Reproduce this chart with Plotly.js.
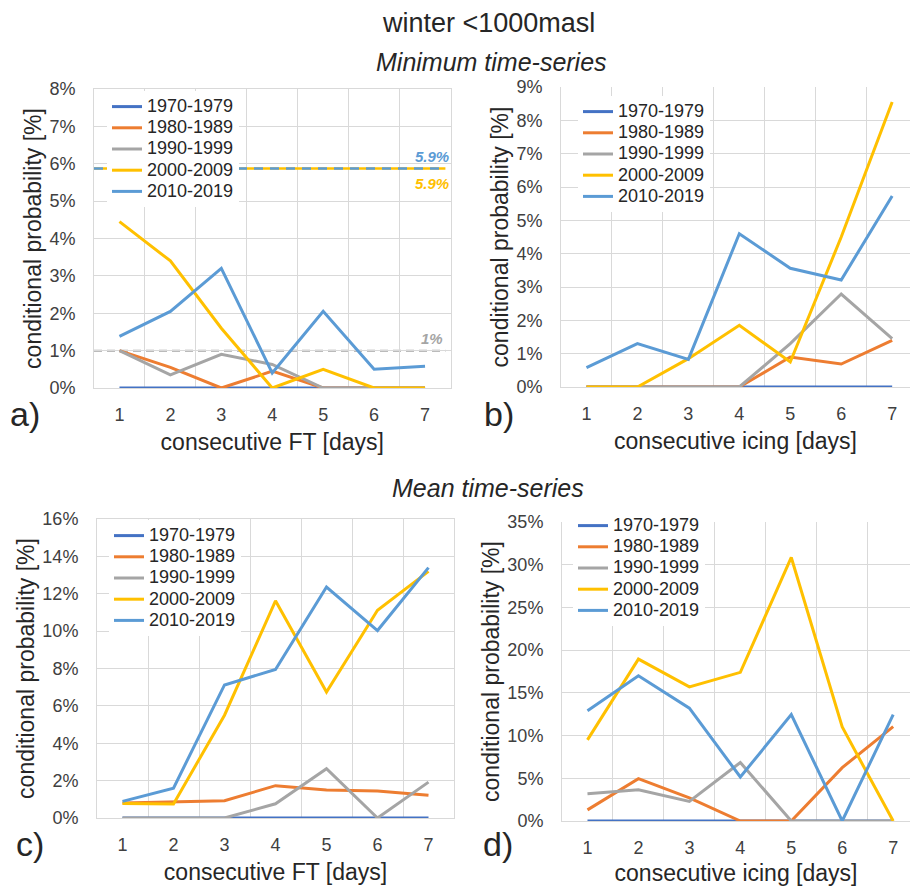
<!DOCTYPE html>
<html>
<head>
<meta charset="utf-8">
<script src="https://cdn.plot.ly/plotly-3.0.1.min.js"></script>
<style>
html,body{margin:0;padding:0;background:#fff}
#gd{width:910px;height:886px}
</style>
</head>
<body>
<div id="gd"></div>
<script>
const days = [1, 2, 3, 4, 5, 6, 7];
const decades = ['1970-1979', '1980-1989', '1990-1999', '2000-2009', '2010-2019'];
const colors = ['#4472C4', '#ED7D31', '#A5A5A5', '#FFC000', '#5B9BD5'];

// a) minimum time-series, consecutive FT
const minFT_1970 = [0, 0, 0, 0, 0, 0, 0];
const minFT_1980 = [1.0, 0.55, 0, 0.45, 0, 0, 0];
const minFT_1990 = [1.0, 0.35, 0.9, 0.63, 0, 0, 0];
const minFT_2000 = [4.45, 3.4, 1.6, 0, 0.5, 0, 0];
const minFT_2010 = [1.38, 2.05, 3.2, 0.4, 2.05, 0.5, 0.58];
// reference levels drawn in a): 2000s/2010s level and the 1% line
const minFT_levels = [5.87, 1.0];

// b) minimum time-series, consecutive icing
const minIce_1970 = [0, 0, 0, 0, 0, 0, 0];
const minIce_1980 = [0, 0, 0, 0, 0.9, 0.69, 1.4];
const minIce_1990 = [0, 0, 0, 0, 1.3, 2.79, 1.45];
const minIce_2000 = [0, 0, 0.85, 1.85, 0.75, 4.5, 8.55];
const minIce_2010 = [0.58, 1.3, 0.83, 4.6, 3.56, 3.21, 5.73];

// c) mean time-series, consecutive FT
const meanFT_1970 = [0, 0, 0, 0, 0, 0, 0];
const meanFT_1980 = [0.8, 0.88, 0.92, 1.73, 1.5, 1.45, 1.22];
const meanFT_1990 = [0, 0, 0, 0.76, 2.64, 0, 1.92];
const meanFT_2000 = [0.77, 0.75, 5.5, 11.62, 6.74, 11.12, 13.2];
const meanFT_2010 = [0.89, 1.6, 7.12, 7.95, 12.36, 10.03, 13.4];

// d) mean time-series, consecutive icing
const meanIce_1970 = [0, 0, 0, 0, 0, 0, 0];
const meanIce_1980 = [1.3, 4.95, 2.7, 0, 0, 6.25, 11.05];
const meanIce_1990 = [3.2, 3.65, 2.3, 6.85, 0, 0, 0];
const meanIce_2000 = [9.5, 18.95, 15.7, 17.4, 30.85, 11.0, 0];
const meanIce_2010 = [12.9, 17.0, 13.2, 5.15, 12.45, 0, 12.45];

const W = 910, H = 886;
const FONT = 'Liberation Sans, Arial, sans-serif';
const TXT = '#404040';
const DARK = '#262626';
const GRID = '#D9D9D9';

function px(a, b) { return [a / W, Math.min(b / W, 1)]; }
function py(top, bottom) { return [1 - bottom / H, 1 - top / H]; }

const panels = [
  {series: [minFT_1970, minFT_1980, minFT_1990, minFT_2000, minFT_2010], xa: 'x', ya: 'y', lg: 'legend'},
  {series: [minIce_1970, minIce_1980, minIce_1990, minIce_2000, minIce_2010], xa: 'x2', ya: 'y2', lg: 'legend2'},
  {series: [meanFT_1970, meanFT_1980, meanFT_1990, meanFT_2000, meanFT_2010], xa: 'x3', ya: 'y3', lg: 'legend3'},
  {series: [meanIce_1970, meanIce_1980, meanIce_1990, meanIce_2000, meanIce_2010], xa: 'x4', ya: 'y4', lg: 'legend4'}
];

// legend rows are packed tightly like the original: small legend font for spacing,
// the visible label size is set on the label itself
const traces = [];
panels.forEach(function (p) {
  p.series.forEach(function (vals, i) {
    traces.push({
      x: days, y: vals, type: 'scatter', mode: 'lines',
      name: '<span style="font-size:18px">' + decades[i] + '</span>',
      xaxis: p.xa, yaxis: p.ya, legend: p.lg,
      line: {color: colors[i], width: 3},
      cliponaxis: false, hoverinfo: 'skip'
    });
  });
});

function xAxis(dom, anchor, title, rEnd, mirror) {
  return {
    domain: dom, anchor: anchor, range: [0.5, rEnd],
    tickmode: 'array', tickvals: days, showgrid: false, zeroline: false,
    showline: true, linecolor: GRID, mirror: mirror, ticks: '',
    ticklabelstandoff: 10,
    tickfont: {family: FONT, size: 18, color: TXT},
    minor: {tickmode: 'array', tickvals: days.slice(0, 6).map(d => d + 0.5), showgrid: true, gridcolor: GRID, gridwidth: 1, ticks: ''},
    title: {text: title, font: {family: FONT, size: 23, color: DARK}, standoff: 10}
  };
}
function yAxis(dom, anchor, top, step, mirror) {
  return {
    domain: dom, anchor: anchor, range: [0, top], dtick: step, tick0: 0,
    ticksuffix: '%', showgrid: true, gridcolor: GRID, gridwidth: 1, zeroline: false,
    showline: true, linecolor: GRID, mirror: mirror, ticks: '',
    ticklabelstandoff: 14,
    tickfont: {family: FONT, size: 18, color: TXT},
    title: {text: 'conditional probability [%]', font: {family: FONT, size: 23, color: DARK}, standoff: 1}
  };
}
function legendAt(left, top) {
  return {
    x: left / W, y: 1 - top / H, xanchor: 'left', yanchor: 'top',
    bgcolor: '#fff', borderwidth: 0, tracegroupgap: 0,
    font: {family: FONT, size: 14, color: DARK}
  };
}
function note(text, x, y, size, extra) {
  return Object.assign({text: text, xref: 'paper', yref: 'paper', x: x / W, y: 1 - y / H,
    xanchor: 'center', yanchor: 'middle', showarrow: false,
    font: {family: FONT, size: size, color: DARK}}, extra || {});
}

const levelLabelFont = (c) => ({family: FONT, size: 15, color: c, weight: 'bold', style: 'italic'});

const layout = {
  width: W, height: H,
  margin: {l: 0, r: 0, t: 0, b: 0},
  paper_bgcolor: '#fff', plot_bgcolor: '#fff',
  font: {family: FONT, color: TXT},
  showlegend: true, hovermode: false,
  xaxis: xAxis(px(94, 450.5), 'y', 'consecutive FT [days]', 7.5, true),
  yaxis: yAxis(py(89, 388), 'x', 8, 1, true),
  xaxis2: xAxis(px(561, 910), 'y2', 'consecutive icing [days]', 7.35, false),
  yaxis2: yAxis(py(87, 387), 'x2', 9, 1, false),
  xaxis3: xAxis(px(97, 454), 'y3', 'consecutive FT [days]', 7.5, true),
  yaxis3: yAxis(py(519, 818), 'x3', 16, 2, true),
  xaxis4: xAxis(px(562, 910), 'y4', 'consecutive icing [days]', 7.33, false),
  yaxis4: yAxis(py(522, 821), 'x4', 35, 5, false),
  legend: legendAt(107, 91),
  legend2: legendAt(578, 96),
  legend3: legendAt(109, 520),
  legend4: legendAt(573, 510),
  shapes: [
    {type: 'line', xref: 'x', yref: 'y', x0: 0.5, x1: 7.4, y0: minFT_levels[0], y1: minFT_levels[0],
     line: {color: colors[3], width: 2.5}, layer: 'above'},
    {type: 'line', xref: 'x', yref: 'y', x0: 0.5, x1: 7.4, y0: minFT_levels[0], y1: minFT_levels[0],
     line: {color: colors[4], width: 2.5, dash: '9px,7px'}, layer: 'above'},
    {type: 'line', xref: 'x', yref: 'y', x0: 0.5, x1: 7.4, y0: minFT_levels[1], y1: minFT_levels[1],
     line: {color: '#A5A5A5', width: 2, dash: '8px,5px'}, layer: 'below'}
  ],
  annotations: [
    note('winter &lt;1000masl', 488, 23, 27),
    note('<i>Minimum time-series</i>', 491, 62, 25),
    note('<i>Mean time-series</i>', 488, 488, 25),
    note('a)', 25, 414, 34),
    note('b)', 499, 414, 34),
    note('c)', 30, 844, 34),
    note('d)', 498, 844, 34),
    {text: minFT_levels[0].toFixed(1) + '%', xref: 'x', yref: 'y', x: 7.5, y: minFT_levels[0],
     xanchor: 'right', yanchor: 'bottom', yshift: 2, showarrow: false, font: levelLabelFont(colors[4])},
    {text: minFT_levels[0].toFixed(1) + '%', xref: 'x', yref: 'y', x: 7.5, y: minFT_levels[0],
     xanchor: 'right', yanchor: 'top', yshift: -4, showarrow: false, font: levelLabelFont(colors[3])},
    {text: minFT_levels[1].toFixed(0) + '%', xref: 'x', yref: 'y', x: 7.4, y: minFT_levels[1],
     xanchor: 'right', yanchor: 'bottom', yshift: 2, showarrow: false, font: levelLabelFont('#A5A5A5')}
  ]
};

Plotly.newPlot('gd', traces, layout, {displayModeBar: false, staticPlot: true});
</script>
</body>
</html>
